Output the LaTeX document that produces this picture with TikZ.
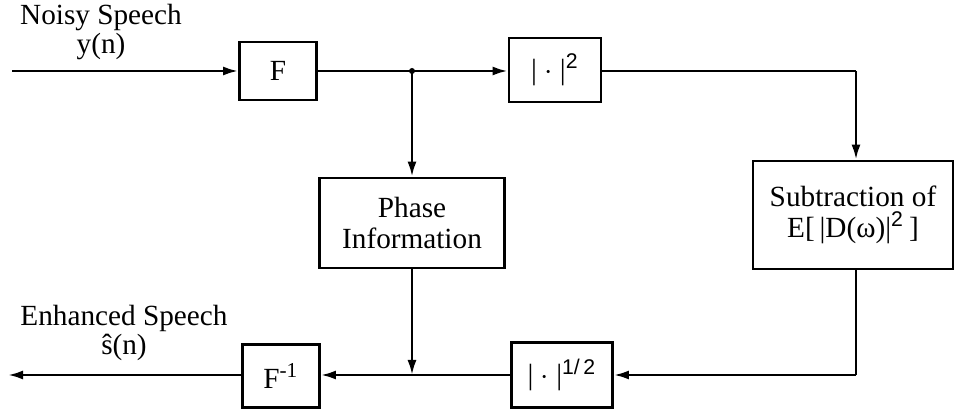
\documentclass[tikz,border=0pt]{standalone}
\usepackage{fontspec}
\setmainfont{Liberation Serif}
\newfontfamily\supfont{Liberation Sans}
\usepackage{tikz}
\usetikzlibrary{arrows.meta}
\tikzstyle{block}=[draw=black, line width=1.1pt, inner sep=0pt, align=center, font=\fontsize{11.7}{12.5}\selectfont]
\tikzstyle{label}=[align=center, inner sep=0pt, font=\fontsize{11.7}{9}\selectfont]
\tikzstyle{wire}=[draw=black, line width=1pt]
\tikzstyle{arrowwire}=[wire, -{Latex[length=6pt,width=3.6pt]}]
\newcommand{\supnum}[1]{\textsuperscript{\supfont\fontsize{8.5}{8.5}\selectfont #1}}

\begin{document}
\begin{tikzpicture}[x=0.4pt, y=-0.4pt]
	\useasboundingbox (0,0) rectangle (959,411);

	% blocks
	\node [style=block, minimum width=30.8pt, minimum height=23.2pt] (F) at (278,71) {F};
	\node [style=block, minimum width=36.8pt, minimum height=25.6pt] (sq) at (555,70) {| $\cdot$ |\supnum{2}};
	\node [style=block, minimum width=74pt, minimum height=36pt] (phase) at (412,223) {Phase\\Information};
	\node [style=block, minimum width=80pt, minimum height=43.2pt] (sub) at (853,215) {Subtraction of\\E[\,|D(ω)|\supnum{2}\,]};
	\node [style=block, minimum width=40.4pt, minimum height=26pt] (half) at (562,375) {| $\cdot$ |\supnum{1/\,2}};
	\node [style=block, minimum width=30.8pt, minimum height=25.2pt] (finv) at (281,376) {F\textsuperscript{\fontsize{8.5}{8.5}\selectfont -1}};

	% signal labels
	\node [style=label] (noisy) at (101,32) {Noisy Speech\\y(n)};
	\node [style=label] (enh) at (124,333) {Enhanced Speech\\ŝ(n)};

	% corners and branch points
	\coordinate (in) at (12,71);
	\coordinate (jn) at (412,71);
	\coordinate (tr) at (856,71);
	\coordinate (br) at (856,375);
	\coordinate (mg) at (412,375);
	\coordinate (out) at (8,375);

	% connections
	\draw [style=arrowwire] (in) -- (in -| F.west);
	\draw [style=wire] (jn -| F.east) -- (jn);
	\draw [style=arrowwire] (jn) -- (jn -| sq.west);
	\draw [style=arrowwire] (jn) -- (phase);
	\draw [style=wire] (tr -| sq.east) -- (tr);
	\draw [style=arrowwire] (tr) -- (tr |- sub.north);
	\draw [style=wire] (sub.south -| br) -- (br);
	\draw [style=arrowwire] (br) -- (br -| half.east);
	\draw [style=wire] (mg -| half.west) -- (mg);
	\draw [style=arrowwire] (phase) -- (mg);
	\draw [style=arrowwire] (mg) -- (mg -| finv.east);
	\draw [style=arrowwire] (mg -| finv.west) -- (out);
	\fill (jn) circle (3);
\end{tikzpicture}
\end{document}
